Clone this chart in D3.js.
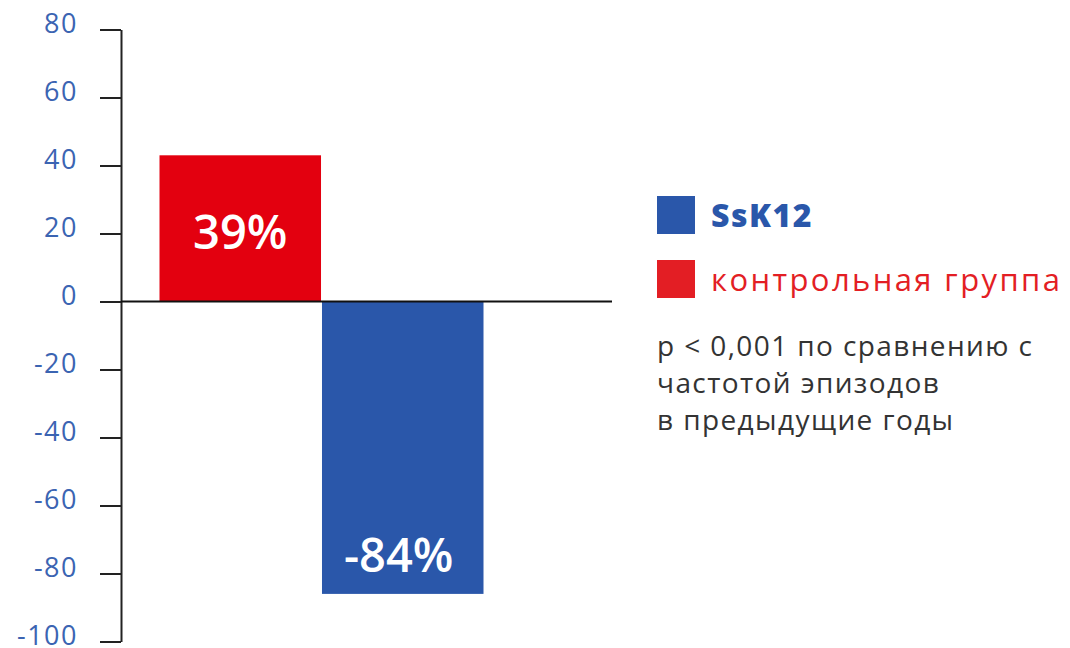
<!DOCTYPE html>
<html>
<head>
<meta charset="utf-8">
<script src="https://cdn.jsdelivr.net/npm/d3@7"></script>
<style>
  html, body { margin: 0; padding: 0; background: #fff; }
  svg { display: block; font-family: "Open Sans", sans-serif; }
</style>
</head>
<body>
<div id="chart"></div>
<script>
// Data
const groups = ["контрольная группа", "SsK12"];
const values = [43, -86];
const valueLabels = ["39%", "-84%"];
const barColors = ["#E3000F", "#2A57AA"];
const legendNames = ["SsK12", "контрольная группа"];
const legendColors = ["#2A57AA", "#E31E24"];
const yTicks = [80, 60, 40, 20, 0, -20, -40, -60, -80, -100];
const noteLines = ["p < 0,001 по сравнению с", "частотой эпизодов", "в предыдущие годы"];

const W = 1070, H = 648;

const svg = d3.select("#chart")
  .append("svg")
  .attr("width", W)
  .attr("height", H);

// Scales
const y = d3.scaleLinear()
  .domain([-100, 80])
  .range([641.5, 29.5]);

const x = d3.scaleBand()
  .domain(groups)
  .range([159.5, 483.5])
  .paddingInner(0.006);

// Y axis
const yAxis = svg.append("g")
  .attr("transform", "translate(121,0)")
  .call(d3.axisLeft(y).tickValues(yTicks).tickSize(21).tickPadding(22).tickSizeOuter(0)
    .tickFormat(d => d < 0 ? "-" + Math.abs(d) : d));

yAxis.select(".domain").attr("stroke", "#222").attr("stroke-width", 2);
yAxis.selectAll(".tick line").attr("stroke", "#222").attr("stroke-width", 2);
yAxis.selectAll(".tick text")
  .attr("fill", "#3B64B2")
  .attr("font-size", 27)
  .attr("dy", "0.12em")
  .attr("letter-spacing", 1.5)
  .attr("font-family", "'Open Sans', sans-serif");

// Bars
svg.selectAll("rect.bar")
  .data(groups)
  .enter()
  .append("rect")
  .attr("class", "bar")
  .attr("x", d => x(d))
  .attr("width", x.bandwidth())
  .attr("y", (d, i) => y(Math.max(0, values[i])))
  .attr("height", (d, i) => Math.abs(y(values[i]) - y(0)))
  .attr("fill", (d, i) => barColors[i]);

// Zero line
svg.append("line")
  .attr("x1", 121)
  .attr("x2", 612)
  .attr("y1", y(0))
  .attr("y2", y(0))
  .attr("stroke", "#111")
  .attr("stroke-width", 2);

// Value labels
svg.selectAll("text.val")
  .data(groups)
  .enter()
  .append("text")
  .attr("class", "val")
  .attr("x", (d, i) => x(d) + x.bandwidth() / 2 - (values[i] < 0 ? 4 : 0))
  .attr("y", (d, i) => values[i] > 0 ? y(values[i]) + 94 : y(values[i]) - 22)
  .attr("text-anchor", "middle")
  .attr("fill", "#fff")
  .attr("font-weight", 600)
  .attr("font-size", 47)
  .text((d, i) => valueLabels[i]);

// Legend
const legend = svg.append("g").attr("transform", "translate(657,196)");
legend.selectAll("rect")
  .data(legendNames)
  .enter()
  .append("rect")
  .attr("x", 0)
  .attr("y", (d, i) => i * 64)
  .attr("width", 38)
  .attr("height", 38)
  .attr("fill", (d, i) => legendColors[i]);

legend.selectAll("text")
  .data(legendNames)
  .enter()
  .append("text")
  .attr("x", 54)
  .attr("y", (d, i) => i * 64 + 31)
  .attr("fill", (d, i) => legendColors[i])
  .attr("font-weight", (d, i) => i === 0 ? 800 : "normal")
  .attr("font-size", (d, i) => i === 0 ? 32 : 31)
  .attr("letter-spacing", (d, i) => i === 0 ? 1.5 : 2.4)
  .text(d => d);

// Note
svg.append("g")
  .selectAll("text")
  .data(noteLines)
  .enter()
  .append("text")
  .attr("x", 657)
  .attr("y", (d, i) => 356 + i * 37)
  .attr("fill", "#333")
  .attr("font-size", 28)
  .attr("letter-spacing", 1.4)
  .text(d => d);
</script>
</body>
</html>
